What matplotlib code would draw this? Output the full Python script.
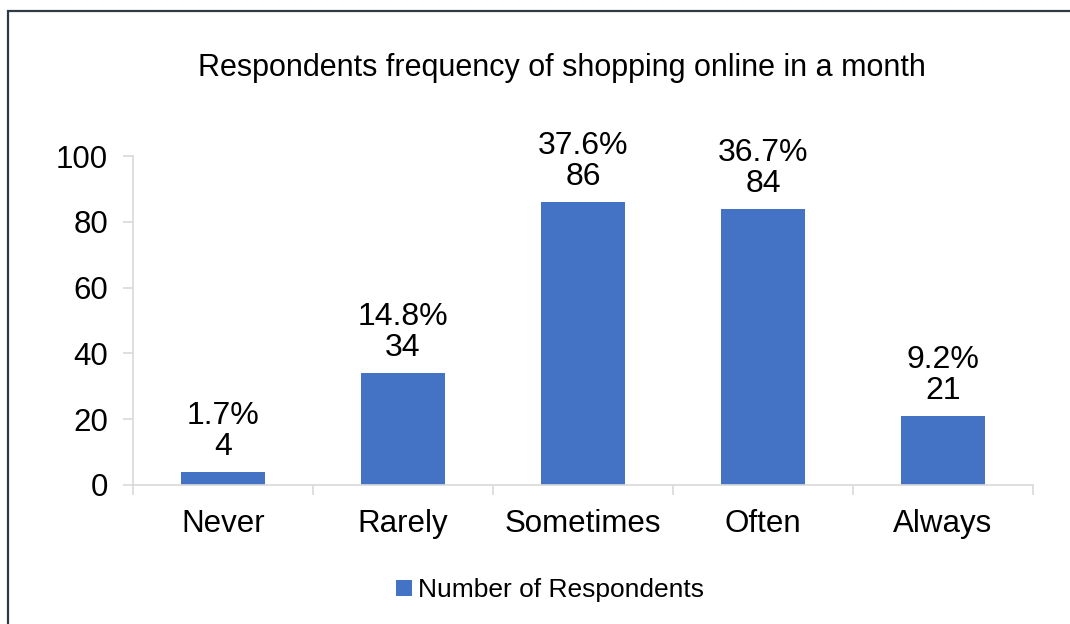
import matplotlib
matplotlib.use("Agg")
import matplotlib.pyplot as plt
from matplotlib.patches import Rectangle

plt.rcParams['font.family'] = ['Liberation Sans', 'DejaVu Sans']

# Frequency of shopping online, per month
categories = ["Never", "Rarely", "Sometimes", "Often", "Always"]
respondents = [4, 34, 86, 84, 21]
percentages = ["1.7%", "14.8%", "37.6%", "36.7%", "9.2%"]

bar_color = "#4472C4"
axis_color = "#D9D9D9"

fig = plt.figure(figsize=(10.7, 6.24), dpi=100)
ax = fig.add_axes([0.1243, 0.2228, 0.8411, 0.5272])

x = range(len(categories))
bars = ax.bar(x, respondents, width=0.47, color=bar_color, label="Number of Respondents", zorder=2)

# two-line labels above each bar: percentage then count
for xi, n, p in zip(x, respondents, percentages):
    ax.annotate(f"{p}\n{n}", (xi, n), xytext=(0, 7), textcoords="offset points",
                ha="center", va="bottom", fontsize=23, linespacing=1.06)

ax.set_xlim(-0.5, len(categories) - 0.5)
ax.set_ylim(0, 100)
ax.set_yticks([0, 20, 40, 60, 80, 100])
ax.set_xticks(list(x))
ax.set_xticklabels(categories)
ax.set_xticks([i - 0.5 for i in range(len(categories) + 1)], minor=True)

for side in ["top", "right"]:
    ax.spines[side].set_visible(False)
for side in ["left", "bottom"]:
    ax.spines[side].set_color(axis_color)
    ax.spines[side].set_linewidth(1.2)

ax.tick_params(axis="y", length=7, width=1.2, color=axis_color, labelsize=22.5, pad=11)
ax.tick_params(axis="x", which="major", length=0, labelsize=22.5, pad=17)
ax.tick_params(axis="x", which="minor", length=7, width=1.2, color=axis_color)

fig.text(0.525, 0.891, "Respondents frequency of shopping online in a month",
         ha="center", va="center", fontsize=22)

fig.legend(handles=[bars], labels=["Number of Respondents"], loc="center",
           bbox_to_anchor=(0.514, 0.054), frameon=False, fontsize=19,
           handlelength=0.6, handleheight=0.6, handletextpad=0.25)

# chart area border
fig.patches.append(Rectangle((8 / 1070, -0.1), 1.2, 1 - 11 / 624 + 0.1,
                             transform=fig.transFigure, fill=False,
                             edgecolor="#2E3B45", linewidth=1.6, zorder=10))

fig.savefig("out.png", dpi=100)
